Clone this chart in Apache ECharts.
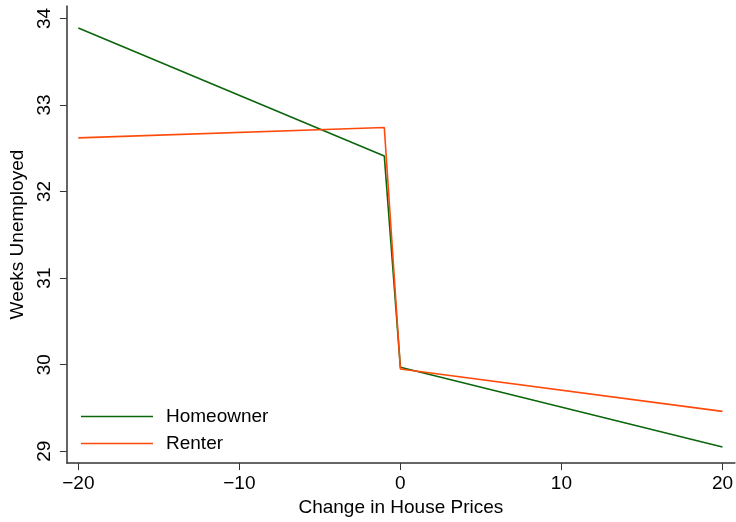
<!DOCTYPE html>
<html>
<head>
<meta charset="utf-8">
<script src="https://cdn.jsdelivr.net/npm/echarts@6/dist/echarts.min.js"></script>
<style>
  html, body { margin: 0; padding: 0; background: #fff; }
  #chart { width: 736px; height: 522px; }
</style>
</head>
<body>
<div id="chart"></div>
<script>
// Change in house prices (x) for each segment endpoint
const priceChange = [-20, -1, 0, 20];
// Weeks unemployed by housing tenure
const homeowner = [33.89, 32.41, 29.97, 29.05];
const renter = [32.62, 32.74, 29.95, 29.46];
// Tick positions and labels
const xTicks = [-20, -10, 0, 10, 20];
const yTicks = [29, 30, 31, 32, 33, 34];

const FONT = 'Liberation Sans, Arial, Helvetica, sans-serif';
const FS = 19;
const GREEN = '#0b650b';
const ORANGE = '#ff4a0a';

const toPairs = (xs, ys) => xs.map((x, i) => [x, ys[i]]);
const fmt = v => (v < 0 ? '\u2212' + Math.abs(v) : String(v));

const chart = echarts.init(document.getElementById('chart'));
chart.setOption({
  animation: false,
  backgroundColor: '#fff',
  textStyle: { fontFamily: FONT },
  grid: { left: 66, top: 6, width: 673, height: 463, containLabel: false },
  xAxis: {
    type: 'value',
    min: -20.71,
    max: 20.77,
    name: 'Change in House Prices',
    nameLocation: 'middle',
    nameGap: 28,
    nameTextStyle: { fontFamily: FONT, fontSize: FS, color: '#000' },
    axisLine: { show: true, onZero: false, lineStyle: { color: '#333', width: 1.5 } },
    axisTick: { show: true, length: 7, customValues: xTicks, lineStyle: { color: '#333' } },
    axisLabel: { customValues: xTicks, formatter: fmt, fontFamily: FONT, fontSize: FS, color: '#000', margin: 11 },
    splitLine: { show: false }
  },
  yAxis: {
    type: 'value',
    min: 28.863,
    max: 34.143,
    name: 'Weeks Unemployed',
    nameLocation: 'middle',
    nameGap: 29,
    nameRotate: 90,
    nameTextStyle: { fontFamily: FONT, fontSize: FS, color: '#000' },
    axisLine: { show: true, onZero: false, lineStyle: { color: '#333', width: 1.5 } },
    axisTick: { show: true, length: 7, customValues: yTicks, lineStyle: { color: '#333' } },
    axisLabel: { customValues: yTicks, rotate: 90, fontFamily: FONT, fontSize: FS, color: '#000', margin: 13 },
    splitLine: { show: false }
  },
  legend: {
    orient: 'vertical',
    left: 81,
    top: 407,
    padding: 0,
    icon: 'rect',
    itemWidth: 72,
    itemHeight: 1.6,
    itemGap: 8,
    textStyle: { fontFamily: FONT, fontSize: FS, color: '#000', padding: [0, 0, 0, 8] },
    data: ['Homeowner', 'Renter']
  },
  series: [
    {
      name: 'Homeowner',
      type: 'line',
      data: toPairs(priceChange, homeowner),
      symbol: 'none',
      lineStyle: { color: GREEN, width: 1.6 },
      itemStyle: { color: GREEN }
    },
    {
      name: 'Renter',
      type: 'line',
      data: toPairs(priceChange, renter),
      symbol: 'none',
      lineStyle: { color: ORANGE, width: 1.6 },
      itemStyle: { color: ORANGE }
    }
  ]
});
</script>
</body>
</html>
